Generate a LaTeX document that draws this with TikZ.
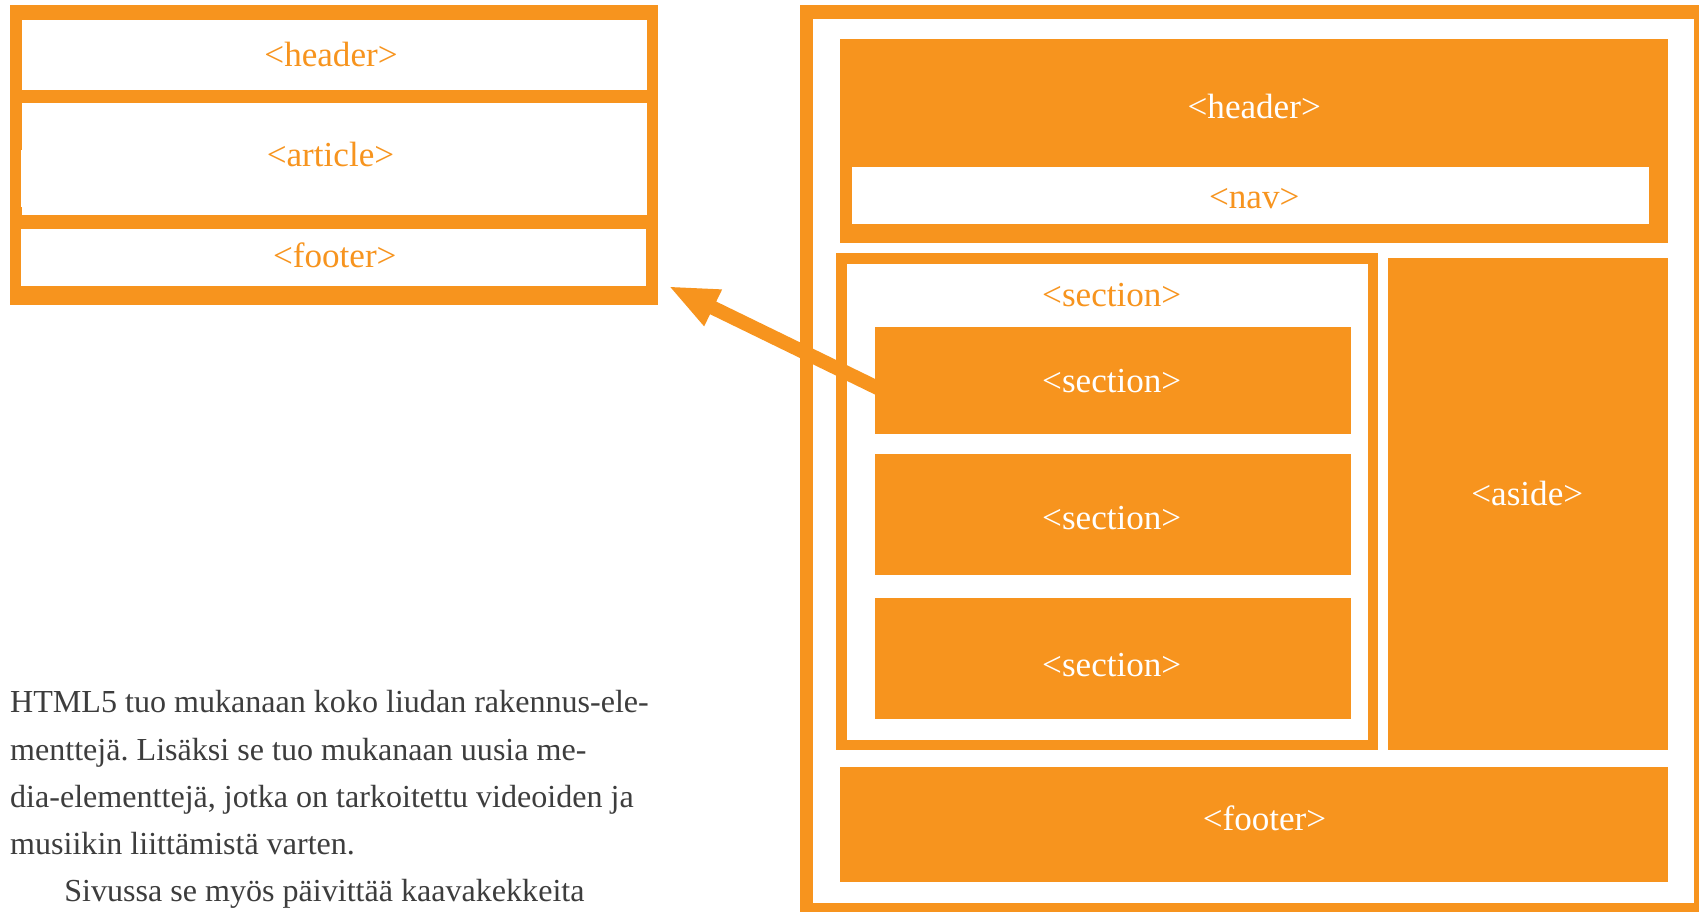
\documentclass[tikz,border=0pt]{standalone}
\usepackage{fontspec}
\setmainfont{Liberation Serif}
\usetikzlibrary{arrows.meta}
\definecolor{orng}{HTML}{F7941E}
\definecolor{bodygray}{HTML}{3D3D3D}
\pgfdeclarelayer{bg}
\pgfdeclarelayer{mid}
\pgfsetlayers{bg,mid,main}
\newcommand\mkbox[6]{\node[#2, minimum width={(#5-#3)*0.5pt}, minimum height={(#6-#4)*0.5pt}] (#1) at ({(#3+#5)/2},{(#4+#6)/2}) {};}
\frenchspacing
\begin{document}
\begin{tikzpicture}[x=0.5pt,y=-0.5pt,
  base/.style={rectangle, inner sep=0pt, outer sep=0pt, draw=none},
  ofill/.style={base, fill=orng},
  wfill/.style={base, fill=white},
  lbl/.style={inner sep=0pt, font=\fontsize{16.2}{19}\selectfont},
  olbl/.style={lbl, text=orng},
  wlbl/.style={lbl, text=white},
  bodyline/.style={anchor=base west, inner sep=0pt, text=bodygray, font=\fontsize{14.8}{22}\selectfont},
  bigarrow/.style={draw=orng, line width=6.5pt, -{Triangle[length=23pt, width=17pt]}}]
\useasboundingbox (0,0) rectangle (1568,842);

\begin{pgfonlayer}{bg}
\fill[white] (0,0) rectangle (1568,842);
% left diagram
\mkbox{lframe}{ofill}{9}{4.6}{607}{281.5}
\mkbox{lheader}{wfill}{20.5}{18}{597}{83.5}
\mkbox{larticle}{wfill}{20.5}{95}{597}{198}
\fill[white] (19,138.5) rectangle (21,191);
\mkbox{lfooter}{wfill}{19.7}{211}{596}{264}
% right diagram
\mkbox{rframe}{ofill}{738}{4.6}{1568}{842}
\mkbox{rinner}{wfill}{750}{17.5}{1563.6}{833}
\mkbox{rheader}{ofill}{775}{36}{1539.6}{224}
\mkbox{nav}{wfill}{786}{154}{1522}{206.7}
\mkbox{secframe}{ofill}{771.6}{233.7}{1272}{692}
\mkbox{secinner}{wfill}{781.6}{243.7}{1262.5}{683}
\mkbox{aside}{ofill}{1281}{238}{1539.6}{692}
\mkbox{rfooter}{ofill}{775}{708}{1539.6}{813.7}
\end{pgfonlayer}

\mkbox{s1}{ofill}{807.4}{301.8}{1246.5}{400.6}
\mkbox{s2}{ofill}{807.4}{419}{1246.5}{530.7}
\mkbox{s3}{ofill}{807.4}{552}{1246.5}{663.6}

\coordinate (tip) at (616.8,264);
\begin{pgfonlayer}{mid}
\draw[bigarrow] ([xshift=8.8pt,yshift=-7.1pt]s1.west) -- (tip);
\end{pgfonlayer}

% labels
\node[olbl] (tlheader) at (305.5,50) {<header>};
\node[olbl] (tlarticle) at (305,143) {<article>};
\node[olbl] (tlfooter) at (309,236) {<footer>};
\node[wlbl] (trheader) at (1157.5,98.5) {<header>};
\node[olbl] (tnav) at (1157.5,183) {<nav>};
\node[olbl] (tsec) at (1026,272) {<section>};
\node[wlbl] (ts1) at (1026,352) {<section>};
\node[wlbl] (ts2) at (1026,478) {<section>};
\node[wlbl] (ts3) at (1026,614) {<section>};
\node[wlbl] (taside) at (1409.5,455) {<aside>};
\node[wlbl] (trfooter) at (1167,755) {<footer>};

% body text
\node[bodyline] (b1) at (9,658) {HTML5 tuo mukanaan koko liudan rakennus-ele-};
\node[bodyline] (b2) at (9,701.5) {menttejä. Lisäksi se tuo mukanaan uusia me-};
\node[bodyline] (b3) at (9,745) {dia-elementtejä, jotka on tarkoitettu videoiden ja};
\node[bodyline] (b4) at (9,788.5) {musiikin liittämistä varten.};
\node[bodyline] (b5) at (59,832) {Sivussa se myös päivittää kaavakekkeita};
\end{tikzpicture}
\end{document}
